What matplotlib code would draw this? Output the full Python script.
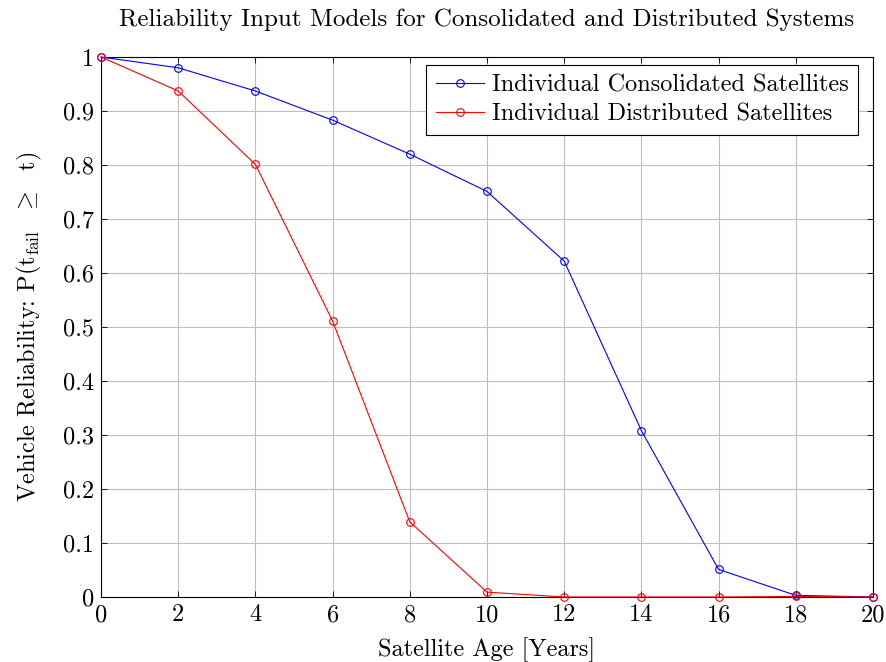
import matplotlib
matplotlib.use("Agg")
import matplotlib.pyplot as plt

plt.rcParams['font.family'] = 'serif'
plt.rcParams['font.serif'] = ['cmr10', 'DejaVu Serif']
plt.rcParams['mathtext.fontset'] = 'cm'
plt.rcParams['axes.formatter.use_mathtext'] = True
plt.rcParams['axes.unicode_minus'] = False

# data
years = [0, 2, 4, 6, 8, 10, 12, 14, 16, 18, 20]
consolidated = [1.0, 0.980, 0.937, 0.883, 0.820, 0.751, 0.622, 0.308, 0.051, 0.003, 0.0]
distributed = [1.0, 0.937, 0.801, 0.511, 0.139, 0.009, 0.0, 0.0, 0.0, 0.001, 0.0]

y_ticks = [0, 0.1, 0.2, 0.3, 0.4, 0.5, 0.6, 0.7, 0.8, 0.9, 1]
y_labels = ['0', '0.1', '0.2', '0.3', '0.4', '0.5', '0.6', '0.7', '0.8', '0.9', '1']

fig = plt.figure(figsize=(8.87, 6.62), dpi=100)
ax = fig.add_axes([0.1139, 0.0982, 0.8703, 0.8157])

ax.plot(years, consolidated, color='blue', lw=0.8, marker='o', ms=5.5,
        mfc='none', mew=0.8, label='Individual Consolidated Satellites', clip_on=False, zorder=3)
ax.plot(years, distributed, color='red', lw=0.8, marker='o', ms=5.5,
        mfc='none', mew=0.8, label='Individual Distributed Satellites', clip_on=False, zorder=3)

ax.set_xlim(0, 20)
ax.set_ylim(0, 1)
ax.set_xticks(years)
ax.set_xticklabels([str(v) for v in years])
ax.set_yticks(y_ticks)
ax.set_yticklabels(y_labels)
ax.grid(True, color='#bfbfbf', lw=0.8)
ax.set_axisbelow(True)
ax.tick_params(direction='in', top=True, right=True, labelsize=17.5, length=4, width=0.6, pad=5)
for s in ax.spines.values():
    s.set_linewidth(0.8)

ax.set_title('Reliability Input Models for Consolidated and Distributed Systems', fontsize=18, pad=22)
ax.set_xlabel('Satellite Age [Years]', fontsize=17.5, labelpad=8)
ax.set_ylabel(r'Vehicle Reliability: P(t$_{\rm fail}$  $\geq$  t)', fontsize=17.5, labelpad=14)

leg = ax.legend(loc='upper right', bbox_to_anchor=(0.9806, 0.9852), fontsize=17.5,
                fancybox=False, edgecolor='black', framealpha=1, handlelength=2.0,
                borderpad=0.4, labelspacing=0.25, handletextpad=0.3, borderaxespad=0)
leg.get_frame().set_linewidth(0.8)

fig.savefig('out.png', dpi=100)
